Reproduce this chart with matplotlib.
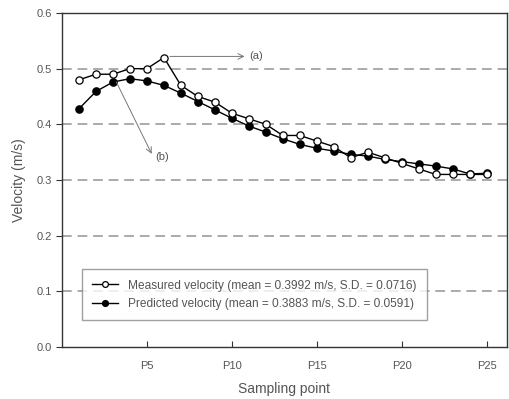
import matplotlib
matplotlib.use('Agg')
import matplotlib.pyplot as plt
import numpy as np

# sampling points P1..P25
points = np.arange(1, 26)
measured = [0.48, 0.49, 0.49, 0.50, 0.50, 0.52, 0.47, 0.45, 0.44, 0.42,
            0.41, 0.40, 0.38, 0.38, 0.37, 0.36, 0.34, 0.35, 0.34, 0.33,
            0.32, 0.31, 0.31, 0.31, 0.31]
predicted = [0.428, 0.459, 0.476, 0.482, 0.478, 0.470, 0.456, 0.441, 0.426,
             0.411, 0.397, 0.386, 0.374, 0.364, 0.357, 0.352, 0.346, 0.343,
             0.337, 0.333, 0.329, 0.325, 0.320, 0.311, 0.312]
xticks = [5, 10, 15, 20, 25]
xticklabels = ['P5', 'P10', 'P15', 'P20', 'P25']
yticks = [0.0, 0.1, 0.2, 0.3, 0.4, 0.5, 0.6]

plt.rcParams['font.family'] = ['Liberation Sans', 'DejaVu Sans']
txt = '#555555'

fig = plt.figure(figsize=(5.09, 3.99), dpi=100)
ax = fig.add_axes([62 / 509, 1 - 347 / 399, 445 / 509, 334 / 399])

for y in [0.1, 0.2, 0.3, 0.4, 0.5]:
    ax.axhline(y, color='#aaaaaa', lw=1.4, ls=(0, (5, 3)), zorder=0)

ax.plot(points, measured, color='black', lw=1, marker='o', ms=5.2,
        mfc='white', mec='black', mew=0.9, zorder=3,
        label='Measured velocity (mean = 0.3992 m/s, S.D. = 0.0716)')
ax.plot(points, predicted, color='black', lw=1, marker='o', ms=5.2,
        mfc='black', mec='black', zorder=2,
        label='Predicted velocity (mean = 0.3883 m/s, S.D. = 0.0591)')

# annotation arrows
ax.annotate('', xy=(10.75, 0.522), xytext=(6.35, 0.522),
            arrowprops=dict(arrowstyle='->', color='#777777', lw=0.7,
                            shrinkA=0, shrinkB=0))
ax.text(11.05, 0.522, '(a)', color=txt, fontsize=8, va='center', ha='left')
ax.annotate('', xy=(5.28, 0.347), xytext=(3.2, 0.476),
            arrowprops=dict(arrowstyle='->', color='#777777', lw=0.7,
                            shrinkA=0, shrinkB=0))
ax.text(5.5, 0.342, '(b)', color=txt, fontsize=8, va='center', ha='left')

ax.set_xlim(0, 26.2)
ax.set_ylim(0, 0.6)
ax.set_xticks(xticks)
ax.set_xticklabels(xticklabels)
ax.set_yticks(yticks)
ax.set_yticklabels([f'{v:.1f}' for v in yticks])
ax.tick_params(axis='x', direction='in', length=4, colors='#333333',
               labelcolor=txt, labelsize=8, pad=10)
ax.tick_params(axis='y', direction='out', length=4, colors='#333333',
               labelcolor=txt, labelsize=8)
for s in ax.spines.values():
    s.set_color('#333333')
    s.set_linewidth(1.0)

ax.set_xlabel('Sampling point', color=txt, fontsize=10, labelpad=8)
ax.set_ylabel('Velocity (m/s)', color=txt, fontsize=10, labelpad=7)

leg = ax.legend(loc='lower left', bbox_to_anchor=(0.045, 0.08),
                fontsize=8.6, frameon=True, fancybox=False,
                edgecolor='#888888', handlelength=2.2, markerscale=0.8,
                labelspacing=0.55, borderpad=0.85, borderaxespad=0)
for t in leg.get_texts():
    t.set_color(txt)

fig.savefig('out.png', dpi=100)
